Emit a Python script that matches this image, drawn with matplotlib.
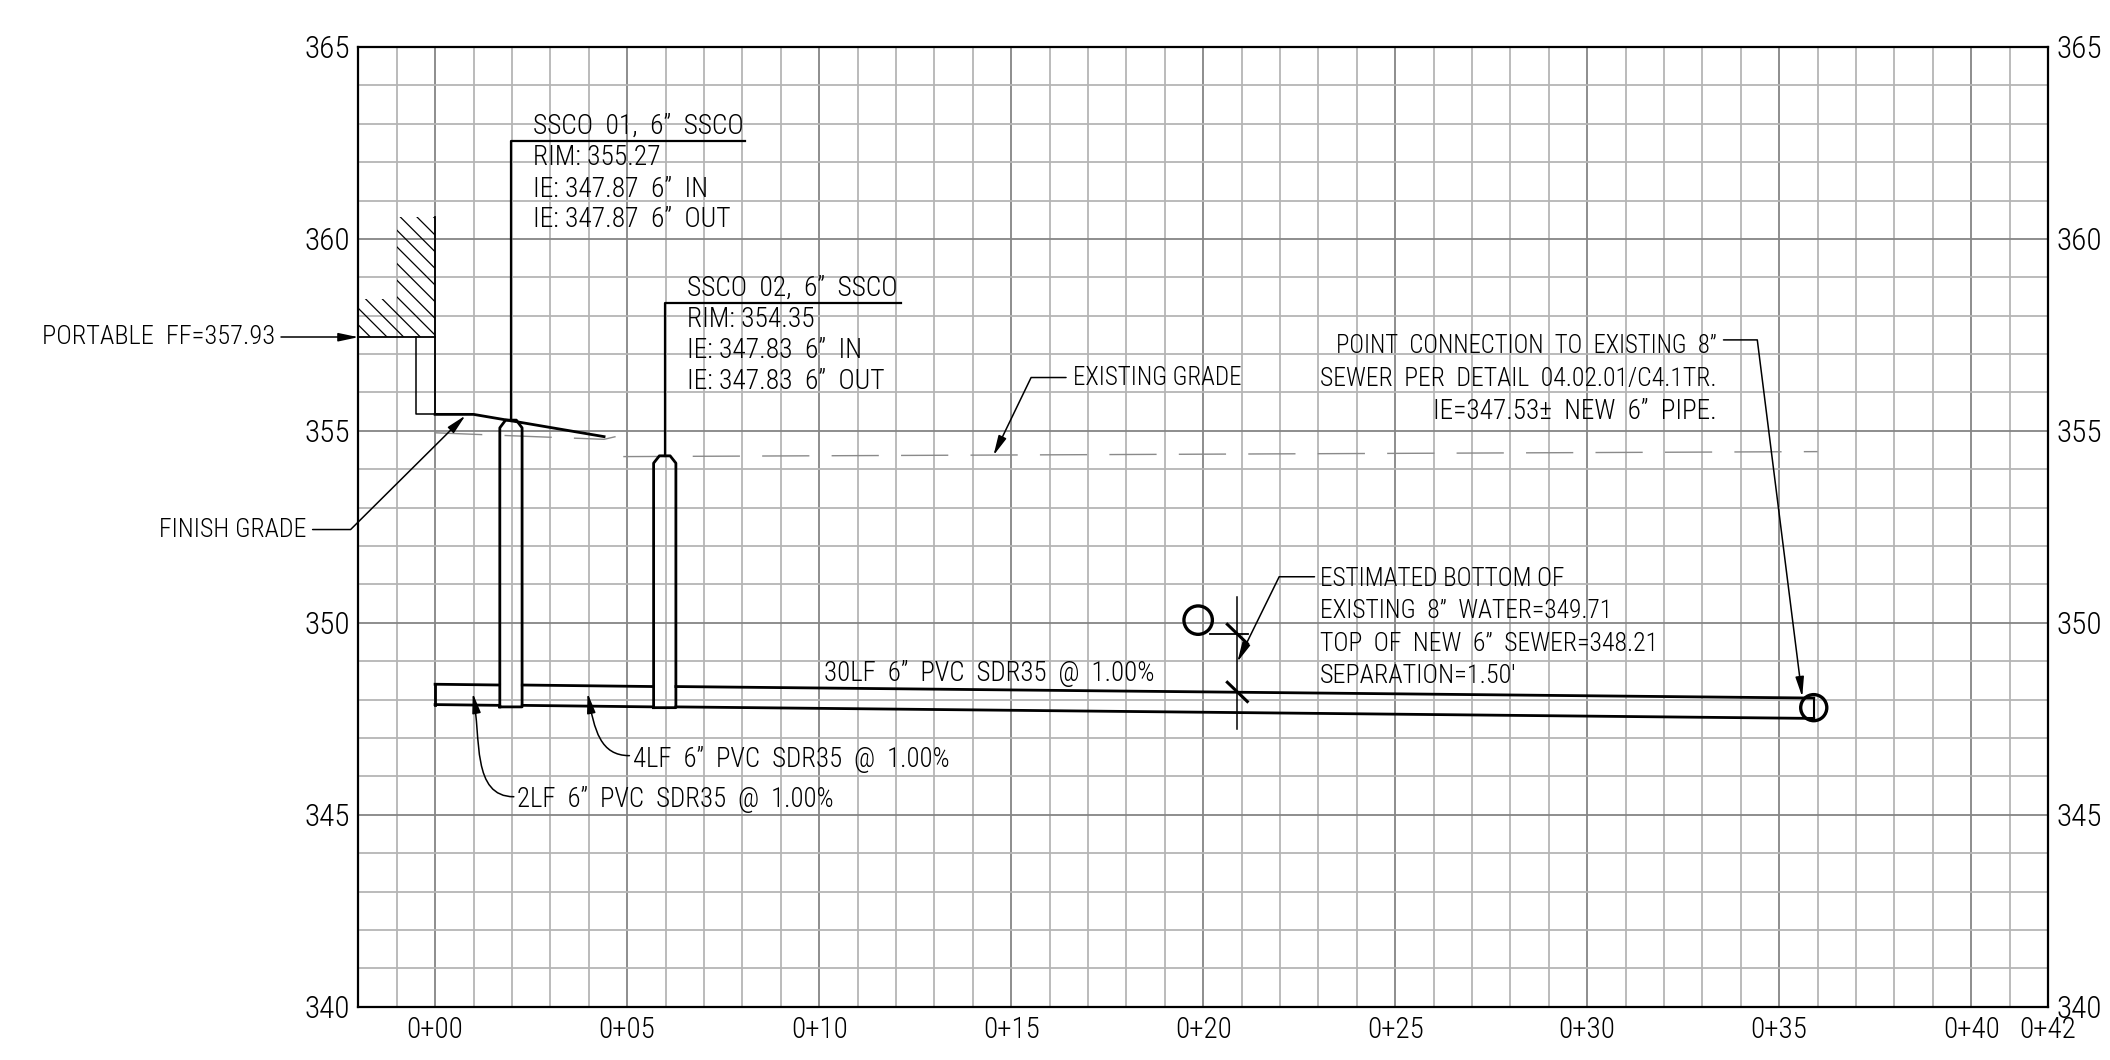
import numpy as np
import matplotlib
matplotlib.use("Agg")
import matplotlib.pyplot as plt
from matplotlib.patches import Circle, FancyArrowPatch, Polygon
from matplotlib.path import Path

plt.rcParams["font.family"] = ["Roboto Condensed", "Liberation Sans", "DejaVu Sans"]
plt.rcParams["font.weight"] = "light"
plt.rcParams["hatch.linewidth"] = 0.9

# grid / tick labels
x_ticks = [0, 5, 10, 15, 20, 25, 30, 35, 40, 42]
x_labels = ["0+00", "0+05", "0+10", "0+15", "0+20", "0+25", "0+30", "0+35", "0+40", "0+42"]
y_ticks = [340, 345, 350, 355, 360, 365]

# building / finish grade
building_x = [-2, 0, 0, -1, -1, -2]
building_y = [357.44, 357.44, 360.57, 360.57, 358.43, 358.43]
step_x = [-0.5, -0.5, 0]
step_y = [357.44, 355.43, 355.43]
wall_x = [0, 0]
wall_y = [360.57, 355.43]
finish_x = [0, 1, 4.4]
finish_y = [355.43, 355.43, 354.85]

# existing grade
grade1_x = [0, 4.4, 4.7]
grade1_y = [354.95, 354.78, 354.85]
grade2_x = [4.9, 36]
grade2_y = [354.33, 354.46]

# pipe runs (top and bottom of pipe)
run_x0 = [0, 2.27, 6.27]
run_x1 = [1.68, 5.69, 35.9]
pipe_top = [348.40, 348.38, 348.34]
pipe_top_end = [348.38, 348.34, 348.04]
pipe_bot = [347.87, 347.85, 347.81]
pipe_bot_end = [347.85, 347.81, 347.51]

# cleanouts: centre, rim, shoulder, bottom
sc_x = [1.975, 5.98]
sc_rim = [355.28, 354.35]
sc_shoulder = [355.08, 354.16]
sc_bottom = [347.81, 347.79]

# callout text
sc01_lines = ["SSCO  01,  6”  SSCO", "RIM: 355.27", "IE: 347.87  6”  IN", "IE: 347.87  6”  OUT"]
sc01_base = [362.75, 361.92, 361.10, 360.32]
sc02_lines = ["SSCO  02,  6”  SSCO", "RIM: 354.35", "IE: 347.83  6”  IN", "IE: 347.83  6”  OUT"]
sc02_base = [358.53, 357.71, 356.90, 356.10]
est_lines = ["ESTIMATED BOTTOM OF", "EXISTING  8”  WATER=349.71", "TOP  OF  NEW  6”  SEWER=348.21", "SEPARATION=1.50'"]
est_base = [350.97, 350.12, 349.27, 348.44]
conn_lines = ["POINT  CONNECTION  TO  EXISTING  8”", "SEWER  PER  DETAIL  04.02.01/C4.1TR.", "IE=347.53±  NEW  6”  PIPE."]
conn_base = [357.02, 356.18, 355.30]

# the CAD font is narrower than Roboto Condensed on some lines
TEXT_SIZE = 19.8
est_fs = [18.2, 18.4, 18.5, 18.8]
conn_fs = [17.8, 18.5, 19.6]

fig = plt.figure(figsize=(21.1, 10.6), dpi=100)
ax = fig.add_axes([358.3 / 2110, 53.3 / 1060, 1689.7 / 2110, 959.7 / 1060])
ax.set_xlim(-2, 42)
ax.set_ylim(340, 365)

ax.set_xticks(x_ticks)
ax.set_xticklabels(x_labels)
ax.set_yticks(y_ticks)
ax.set_xticks(np.arange(-2, 43), minor=True)
ax.set_yticks(np.arange(340, 366), minor=True)
ax.grid(which="minor", color="#b5b5b5", lw=1.3)
ax.grid(which="major", color="#858585", lw=1.3)
ax.set_axisbelow(True)
ax.tick_params(which="both", length=0)
ax.tick_params(axis="x", labelsize=21, pad=7)
ax.tick_params(axis="y", labelsize=22.5, pad=6, labelright=True)
for s in ax.spines.values():
    s.set_linewidth(1.6)

# building
ax.add_patch(Polygon(np.column_stack([building_x, building_y]), closed=True, fill=False,
                     hatch="\\\\", lw=0, edgecolor="k"))
ax.plot([-2, 0], [357.44, 357.44], color="k", lw=1.3)
ax.plot(wall_x, wall_y, color="k", lw=1.3)
ax.plot(step_x, step_y, color="k", lw=1.1)
ax.plot(finish_x, finish_y, color="k", lw=2)

# existing grade
ax.plot(grade1_x, grade1_y, color="#8a8a8a", lw=1, dashes=(34, 16))
ax.plot(grade2_x, grade2_y, color="#8a8a8a", lw=1, dashes=(34, 16))

# pipe
for i in range(len(run_x0)):
    ax.plot([run_x0[i], run_x1[i]], [pipe_top[i], pipe_top_end[i]], color="k", lw=2)
    ax.plot([run_x0[i], run_x1[i]], [pipe_bot[i], pipe_bot_end[i]], color="k", lw=2)
ax.plot([0, 0], [pipe_top[0], pipe_bot[0]], color="k", lw=2)
ax.plot([35.9, 35.9], [pipe_top_end[2], pipe_bot_end[2]], color="k", lw=1.5)
ax.add_patch(Circle((35.9, 347.79), 0.34, fill=False, color="k", lw=2.4, zorder=4))

# cleanouts
for i in range(len(sc_x)):
    c = sc_x[i]
    ax.plot([c - 0.29, c - 0.29, c - 0.14, c + 0.14, c + 0.29, c + 0.29, c - 0.29],
            [sc_bottom[i], sc_shoulder[i], sc_rim[i], sc_rim[i], sc_shoulder[i], sc_bottom[i], sc_bottom[i]],
            color="k", lw=2)

# callouts with shelf line
ax.plot([1.97, 1.97, 8.06], [355.27, 362.55, 362.55], color="k", lw=1.6)
ax.plot([5.98, 5.98, 12.14], [354.35, 358.33, 358.33], color="k", lw=1.6)
for txt, yb in zip(sc01_lines, sc01_base):
    ax.text(2.54, yb, txt, fontsize=TEXT_SIZE, va="baseline")
for txt, yb in zip(sc02_lines, sc02_base):
    ax.text(6.57, yb, txt, fontsize=TEXT_SIZE, va="baseline")
for txt, yb, fs in zip(est_lines, est_base, est_fs):
    ax.text(23.05, yb, txt, fontsize=fs, va="baseline")
for txt, yb, fs in zip(conn_lines, conn_base, conn_fs):
    ax.text(33.38, yb, txt, fontsize=fs, va="baseline", ha="right")
ax.text(10.12, 348.48, "30LF  6”  PVC  SDR35  @  1.00%", fontsize=19.4, va="baseline")
ax.text(5.16, 346.25, "4LF  6”  PVC  SDR35  @  1.00%", fontsize=19.3, va="baseline")
ax.text(2.12, 345.20, "2LF  6”  PVC  SDR35  @  1.00%", fontsize=19.3, va="baseline")
ax.text(16.6, 356.39, "EXISTING GRADE", fontsize=18, va="center")
ax.text(-3.35, 352.43, "FINISH GRADE", fontsize=18.6, va="center", ha="right", clip_on=False)
ax.text(-4.17, 357.44, "PORTABLE  FF=357.93", fontsize=19, va="center", ha="right", clip_on=False)


def leader(pts, codes=None):
    if codes is None:
        codes = [Path.MOVETO] + [Path.LINETO] * (len(pts) - 1)
    a = FancyArrowPatch(path=Path(pts, codes), arrowstyle="-|>,head_length=0.4,head_width=0.085",
                        mutation_scale=30, color="k", lw=1.1, clip_on=False, zorder=5)
    ax.add_patch(a)


leader([(-4.0, 357.44), (-2, 357.44)])
leader([(-3.19, 352.43), (-2.2, 352.43), (0.79, 355.4)])
leader([(16.43, 356.39), (15.52, 356.39), (14.54, 354.36)])
leader([(33.55, 357.37), (34.43, 357.37), (35.6, 348.07)])
leader([(22.9, 351.2), (21.98, 351.2), (20.89, 348.98)])
leader([(5.06, 346.54), (4.3, 346.54), (4.15, 347.2), (3.97, 348.17)],
       [Path.MOVETO, Path.CURVE4, Path.CURVE4, Path.CURVE4])
leader([(2.05, 345.47), (0.95, 345.47), (1.2, 347.0), (0.98, 348.17)],
       [Path.MOVETO, Path.CURVE4, Path.CURVE4, Path.CURVE4])

# water crossing
ax.add_patch(Circle((19.87, 350.07), 0.37, fill=False, color="k", lw=2.4, zorder=4))
ax.plot([20.89, 20.89], [347.24, 350.66], color="k", lw=1.1)
ax.plot([20.18, 21.17], [349.71, 349.71], color="k", lw=1.3)
for yc in [349.71, 348.2]:
    ax.plot([20.63, 21.15], [yc + 0.25, yc - 0.25], color="k", lw=2.2)

fig.savefig("out.png", dpi=100)
